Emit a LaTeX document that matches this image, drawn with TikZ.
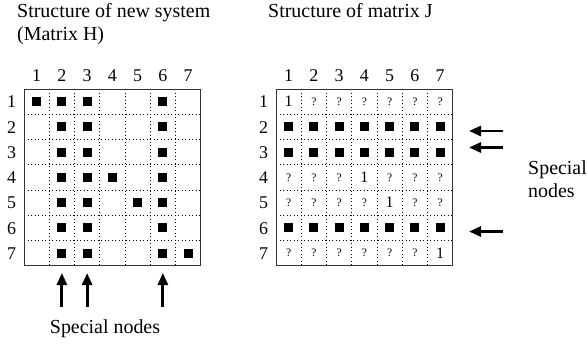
\documentclass[tikz,border=0pt]{standalone}
\usepackage{fontspec}
\setmainfont{Liberation Serif}
\usetikzlibrary{arrows.meta}
\begin{document}
\begin{tikzpicture}[x=1bp,y=-1bp,
  txt/.style={font=\fontsize{20}{23}\selectfont,inner sep=0pt},
  lab/.style={font=\fontsize{18}{20}\selectfont,inner sep=0pt,anchor=base},
  sq/.style={fill=black,minimum size=9bp,inner sep=0pt},
  qm/.style={font=\fontsize{11.5}{12}\selectfont,inner sep=0pt},
  one/.style={font=\fontsize{16}{16}\selectfont,inner sep=0pt},
  framel/.style={draw=black!80,line width=1bp},
  gridl/.style={line width=1bp,dash pattern=on 1bp off 2.5bp},
  bigarrow/.style={line width=2.8bp,-{Triangle[length=12bp,width=10bp]}}
]
\useasboundingbox (0,0) rectangle (587,343);
\def\cs{25.25}
% titles
\node[txt,anchor=base west,align=left] (t1) at (17,40) {Structure of new system\\(Matrix H)};
\node[txt,anchor=base west] (t2) at (268,17) {Structure of matrix J};
% grids
\foreach \xo/\nm in {24/H,276/J}{
  \foreach \i in {1,...,6}{
    \draw[gridl] ({\xo+\i*\cs},89) -- ({\xo+\i*\cs},{89+7*\cs});
    \draw[gridl] (\xo,{89+\i*\cs}) -- ({\xo+7*\cs},{89+\i*\cs});
  }
  \draw[framel] (\xo,89) rectangle ({\xo+7*\cs},{89+7*\cs});
  \foreach \i in {1,...,7}{
    \node[lab] (\nm c\i) at ({\xo+(\i-0.5)*\cs},81) {\i};
    \node[lab] (\nm r\i) at ({\xo-12.5},{89+(\i-0.5)*\cs+6.2}) {\i};
  }
}
% matrix H
\foreach \r/\cl in {1/{1,2,3,6},2/{2,3,6},3/{2,3,6},4/{2,3,4,6},5/{2,3,5,6},6/{2,3,6},7/{2,3,6,7}}{
  \foreach \c in \cl {
    \node[sq] (h\r\c) at ({24+(\c-0.5)*\cs},{89+(\r-0.5)*\cs}) {};
  }
}
% matrix J
\foreach \r in {2,3,6}{
  \foreach \c in {1,...,7}{
    \node[sq] (j\r\c) at ({276+(\c-0.5)*\cs},{89+(\r-0.5)*\cs}) {};
  }
}
\foreach \r in {1,4,5,7}{
  \foreach \c in {1,...,7}{
    \ifnum\c=\r
      \node[one] (j\r\c) at ({276+(\c-0.5)*\cs},{89+(\r-0.5)*\cs}) {1};
    \else
      \node[qm] (j\r\c) at ({276+(\c-0.5)*\cs},{89+(\r-0.5)*\cs}) {?};
    \fi
  }
}
% bottom arrows
\node[txt,anchor=base] (sn1) at (105,333) {Special nodes};
\foreach \c in {2,3,6}{
  \coordinate (bt\c) at ({24+(\c-0.5)*\cs},273);
  \coordinate (bs\c) at ({24+(\c-0.5)*\cs},307);
  \draw[bigarrow] (bs\c) -- (bt\c);
}
% right arrows
\node[txt,anchor=base west,align=left] (sn2) at (528,197) {Special\\nodes};
\foreach \k/\yy in {a/131,b/147.5,c/231.5}{
  \coordinate (rt\k) at (469,\yy);
  \coordinate (rs\k) at (503,\yy);
  \draw[bigarrow] (rs\k) -- (rt\k);
}
\end{tikzpicture}
\end{document}
